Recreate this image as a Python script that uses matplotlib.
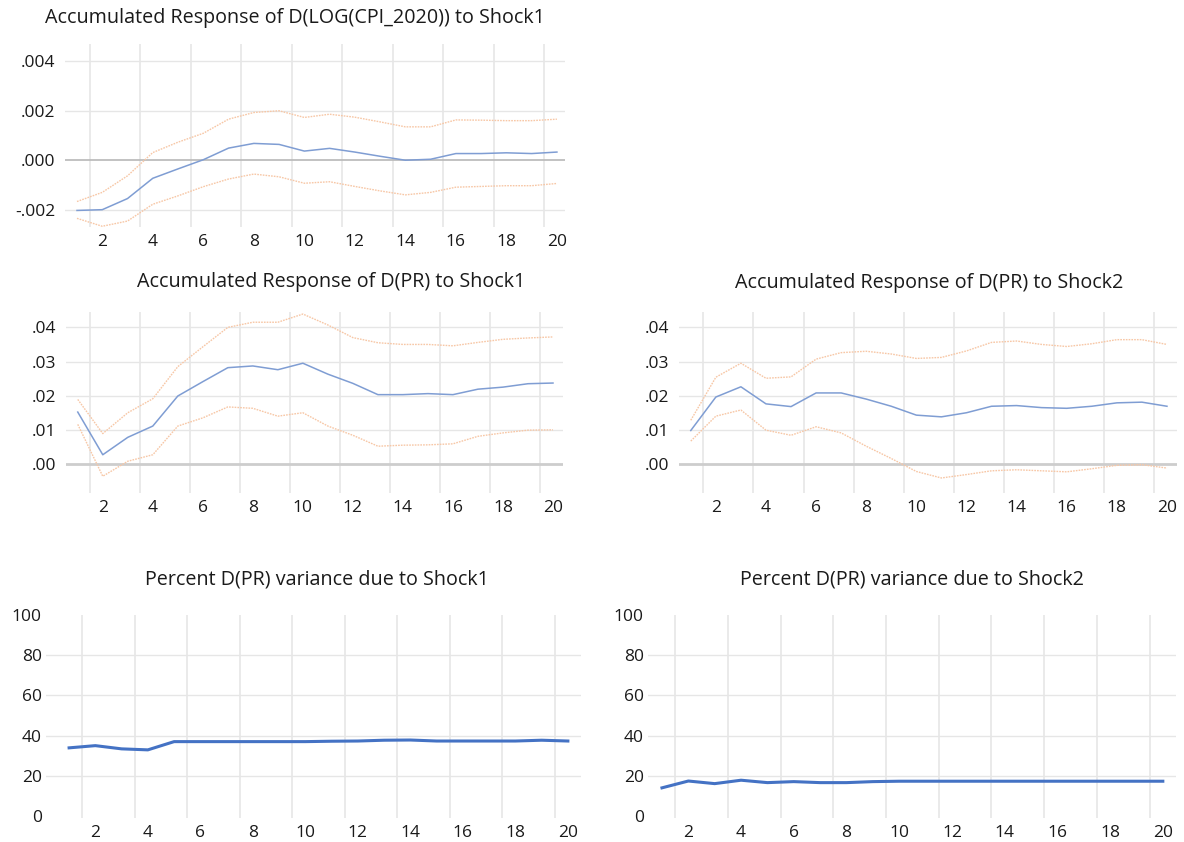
import matplotlib
matplotlib.use("Agg")
import matplotlib.pyplot as plt
import numpy as np

plt.rcParams['font.family'] = ['Open Sans', 'DejaVu Sans']

W, H = 1184, 842
periods = list(range(1, 21))

# Panel 1: Accumulated response of D(LOG(CPI_2020)) to Shock1
cpi_resp = [-0.00203, -0.00200, -0.00155, -0.00073, -0.00035, 0.00002, 0.00049, 0.00068,
            0.00064, 0.00037, 0.00048, 0.00033, 0.00016, 0.00000, 0.00004, 0.00027,
            0.00027, 0.00030, 0.00027, 0.00033]
cpi_up = [-0.00167, -0.00130, -0.00063, 0.00031, 0.00073, 0.00109, 0.00166, 0.00193,
          0.00200, 0.00173, 0.00186, 0.00174, 0.00155, 0.00135, 0.00135, 0.00163,
          0.00162, 0.00160, 0.00160, 0.00166]
cpi_lo = [-0.00235, -0.00267, -0.00246, -0.00178, -0.00144, -0.00107, -0.00076, -0.00056,
          -0.00067, -0.00093, -0.00087, -0.00106, -0.00124, -0.00140, -0.00130, -0.00109,
          -0.00106, -0.00103, -0.00103, -0.00094]

# Panel 2: Accumulated response of D(PR) to Shock1
pr1_resp = [0.0152, 0.0027, 0.0078, 0.0111, 0.0199, 0.0241, 0.0282, 0.0287, 0.0276, 0.0295,
            0.0263, 0.0236, 0.0203, 0.0203, 0.0206, 0.0203, 0.0219, 0.0225, 0.0235, 0.0237]
pr1_up = [0.0189, 0.0089, 0.0150, 0.0191, 0.0285, 0.0343, 0.0400, 0.0415, 0.0415, 0.0439,
          0.0407, 0.0370, 0.0355, 0.0350, 0.0350, 0.0346, 0.0356, 0.0365, 0.0369, 0.0372]
pr1_lo = [0.0116, -0.0036, 0.0008, 0.0027, 0.0111, 0.0135, 0.0167, 0.0163, 0.0140, 0.0150,
          0.0111, 0.0084, 0.0052, 0.0055, 0.0056, 0.0059, 0.0081, 0.0091, 0.0099, 0.0100]

# Panel 3: Accumulated response of D(PR) to Shock2
pr2_resp = [0.0098, 0.0196, 0.0226, 0.0176, 0.0168, 0.0208, 0.0208, 0.0190, 0.0169, 0.0143,
            0.0138, 0.0150, 0.0169, 0.0171, 0.0165, 0.0163, 0.0169, 0.0179, 0.0181, 0.0169]
pr2_up = [0.0128, 0.0254, 0.0295, 0.0251, 0.0255, 0.0307, 0.0326, 0.0330, 0.0322, 0.0309,
          0.0312, 0.0331, 0.0356, 0.0360, 0.0350, 0.0344, 0.0352, 0.0364, 0.0364, 0.0350]
pr2_lo = [0.0067, 0.0140, 0.0158, 0.0099, 0.0084, 0.0109, 0.0091, 0.0052, 0.0016, -0.0022,
          -0.0041, -0.0031, -0.0020, -0.0017, -0.0020, -0.0023, -0.0014, -0.0004, -0.0002, -0.0012]

# Panels 4-5: variance decomposition of D(PR)
vd_shock1 = [33.9, 35.0, 33.4, 32.9, 37.0, 37.0, 37.0, 37.0, 37.0, 37.0,
             37.2, 37.3, 37.7, 37.8, 37.3, 37.3, 37.3, 37.3, 37.7, 37.3]
vd_shock2 = [14.0, 17.4, 16.1, 17.8, 16.6, 17.1, 16.6, 16.6, 17.1, 17.3,
             17.3, 17.3, 17.3, 17.3, 17.3, 17.3, 17.3, 17.3, 17.3, 17.3]

titles = ["Accumulated Response of D(LOG(CPI_2020)) to Shock1",
          "Accumulated Response of D(PR) to Shock1",
          "Accumulated Response of D(PR) to Shock2",
          "Percent D(PR) variance due to Shock1",
          "Percent D(PR) variance due to Shock2"]

cpi_ticks = [-0.002, 0.000, 0.002, 0.004]
cpi_ticklabels = ["-.002", ".000", ".002", ".004"]
pr_ticks = [0.00, 0.01, 0.02, 0.03, 0.04]
pr_ticklabels = [".00", ".01", ".02", ".03", ".04"]
vd_ticks = [0, 20, 40, 60, 80, 100]
vd_ticklabels = ["0", "20", "40", "60", "80", "100"]
x_ticks = list(range(2, 21, 2))

fig = plt.figure(figsize=(W / 100, H / 100), dpi=100)
fig.patch.set_facecolor("white")

GRID = "#e6e6e6"
BLUE_THIN = "#7f9dd3"
ORANGE = "#f7c7a6"
BLUE = "#4472c4"
TXT = "#1a1a1a"


def make_ax(left, right, top, bottom):
    return fig.add_axes([left / W, 1 - bottom / H, (right - left) / W, (bottom - top) / H])


def style(ax, xlim, ylim, yticks, yticklabels, hgrid):
    ax.set_xlim(*xlim)
    ax.set_ylim(*ylim)
    for s in ax.spines.values():
        s.set_visible(False)
    ax.set_xticks(x_ticks)
    ax.set_xticklabels([str(t) for t in x_ticks])
    ax.set_yticks(yticks)
    ax.set_yticklabels(yticklabels)
    ax.tick_params(axis="both", length=0, labelsize=12.5, colors=TXT)
    ax.tick_params(axis="y", pad=7)
    ax.tick_params(axis="x", pad=5)
    for xv in np.arange(1.5, 20, 2.0):
        ax.axvline(xv, color=GRID, lw=1.2, zorder=0)
    for yv in hgrid:
        ax.axhline(yv, color=GRID, lw=1.0, zorder=0)


def irf_panel(ax, resp, up, lo):
    ax.plot(periods, up, color=ORANGE, lw=1.0, ls=(0, (1.2, 0.8)), zorder=2)
    ax.plot(periods, lo, color=ORANGE, lw=1.0, ls=(0, (1.2, 0.8)), zorder=2)
    ax.plot(periods, resp, color=BLUE_THIN, lw=1.1, zorder=3)


# Panel 1
ax1 = make_ax(65, 565, 44, 227)
style(ax1, (0.525, 20.32), (-0.0027, 0.0047), cpi_ticks, cpi_ticklabels,
      [-0.002, 0.002, 0.004])
ax1.axhline(0, color="#b8b8b8", lw=1.2, zorder=1)
irf_panel(ax1, cpi_resp, cpi_up, cpi_lo)

# Panel 2
ax2 = make_ax(66, 563, 312, 493)
style(ax2, (0.53, 20.4), (-0.0085, 0.0445), pr_ticks, pr_ticklabels,
      [0.01, 0.02, 0.03, 0.04])
ax2.axhline(0, color="#cdcdcd", lw=2.0, zorder=1)
irf_panel(ax2, pr1_resp, pr1_up, pr1_lo)

# Panel 3
ax3 = make_ax(679, 1177, 312, 493)
style(ax3, (0.53, 20.4), (-0.0085, 0.0445), pr_ticks, pr_ticklabels,
      [0.01, 0.02, 0.03, 0.04])
ax3.axhline(0, color="#cdcdcd", lw=2.0, zorder=1)
irf_panel(ax3, pr2_resp, pr2_up, pr2_lo)

# Panel 4
ax4 = make_ax(46, 581, 615, 818)
style(ax4, (0.12, 20.5), (-1, 100), vd_ticks, vd_ticklabels, [20, 40, 60, 80])
ax4.tick_params(axis="y", pad=3)
ax4.plot(periods, vd_shock1, color=BLUE, lw=2.2, zorder=3)

# Panel 5
ax5 = make_ax(648, 1176, 615, 818)
style(ax5, (0.47, 20.5), (-1, 100), vd_ticks, vd_ticklabels, [20, 40, 60, 80])
ax5.tick_params(axis="y", pad=3)
ax5.plot(periods, vd_shock2, color=BLUE, lw=2.2, zorder=3)

# Titles
title_pos = [(295, 18), (331, 282), (929, 283), (317, 580), (912, 580)]
for t, (px, py) in zip(titles, title_pos):
    fig.text(px / W, 1 - py / H, t, ha="center", va="center", fontsize=14.2, color=TXT)

fig.savefig("out.png", dpi=100, facecolor="white")
